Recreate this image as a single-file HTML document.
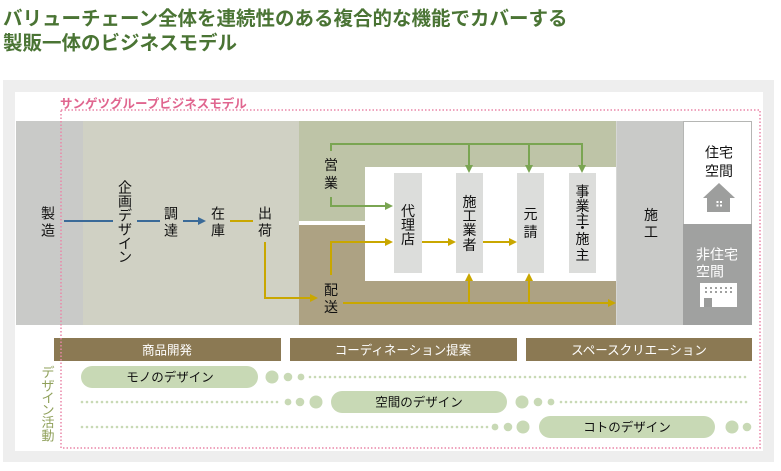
<!DOCTYPE html>
<html><head><meta charset="utf-8">
<style>
html,body{margin:0;padding:0;background:#fff;}
svg{display:block;}
text{font-family:"Liberation Sans","Noto Sans CJK JP",sans-serif;}
</style></head>
<body>
<svg width="781" height="471" viewBox="0 0 781 471" xmlns="http://www.w3.org/2000/svg">
<!-- Title -->
<text x="3" y="25" font-size="19.5" font-weight="bold" fill="#4a7434">バリューチェーン全体を連続性のある複合的な機能でカバーする</text>
<text x="3" y="49.5" font-size="19.5" font-weight="bold" fill="#4a7434">製販一体のビジネスモデル</text>

<!-- Backgrounds -->
<rect x="3" y="80" width="771" height="382" fill="#eeeeee"/>
<rect x="15" y="92" width="748" height="359" fill="#ffffff"/>

<text x="60" y="108" font-size="12.5" font-weight="bold" fill="#e0668f">サンゲツグループビジネスモデル</text>

<!-- Main band -->
<rect x="16" y="121" width="67" height="204" fill="#c9cac8"/>
<rect x="83" y="121" width="216" height="204" fill="#d0d1c4"/>
<rect x="299" y="121" width="317" height="100" fill="#bec4a7"/>
<rect x="299" y="225" width="317" height="100" fill="#ada283"/>
<rect x="299" y="221" width="66" height="4" fill="#ffffff"/>
<rect x="365" y="167" width="251" height="114" fill="#ffffff"/>

<rect x="394" y="173" width="28" height="100" fill="#dcdddb"/>
<rect x="456" y="173" width="27" height="100" fill="#dcdddb"/>
<rect x="517" y="173" width="27" height="100" fill="#dcdddb"/>
<rect x="569" y="173" width="27" height="100" fill="#dcdddb"/>

<rect x="616" y="121" width="67" height="204" fill="#c9cac8"/>
<line x1="616.5" y1="121" x2="616.5" y2="325" stroke="#d6d7d5" stroke-width="1"/>
<rect x="683.5" y="121.5" width="68" height="103" fill="#ffffff" stroke="#b5b6b4" stroke-width="1"/>
<rect x="683" y="224" width="69" height="101" fill="#a0a1a0"/>

<!-- House icon -->
<polygon points="703,198 719,183 735,198" fill="#9d9e9d"/>
<rect x="707" y="197" width="23" height="15" fill="#9d9e9d"/>
<rect x="716.5" y="201" width="2" height="2" fill="#fff"/>
<rect x="720" y="201" width="2" height="2" fill="#fff"/>
<rect x="716.5" y="204.5" width="2" height="2" fill="#fff"/>
<rect x="720" y="204.5" width="2" height="2" fill="#fff"/>

<!-- Building icon -->
<rect x="700" y="283" width="37" height="24" fill="#ffffff"/>
<g fill="#a0a1a0">
<rect x="705" y="287" width="2" height="2"/><rect x="710" y="287" width="2" height="2"/><rect x="715" y="287" width="2" height="2"/><rect x="720" y="287" width="2" height="2"/><rect x="725" y="287" width="2" height="2"/><rect x="730" y="287" width="2" height="2"/>
<rect x="705" y="291" width="2" height="2"/><rect x="710" y="291" width="2" height="2"/><rect x="715" y="291" width="2" height="2"/><rect x="720" y="291" width="2" height="2"/><rect x="725" y="291" width="2" height="2"/><rect x="730" y="291" width="2" height="2"/>
</g>
<rect x="704" y="298" width="8" height="9" fill="#9a9b9a"/>

<!-- Blue flow -->
<g stroke="#3a6a98" stroke-width="2" fill="none">
<line x1="64" y1="221" x2="113" y2="221"/>
<line x1="137" y1="221" x2="160" y2="221"/>
<line x1="183" y1="221" x2="199" y2="221"/>
</g>
<polygon points="198,217 206,221 198,225" fill="#3a6a98"/>

<!-- Yellow flows -->
<g stroke="#c9a700" stroke-width="2" fill="none">
<line x1="230" y1="221" x2="253" y2="221"/>
<polyline points="265,242 265,298 311,298"/>
<polyline points="331,275 331,242 386,242"/>
<line x1="422" y1="242" x2="449" y2="242"/>
<line x1="483" y1="242" x2="510" y2="242"/>
<line x1="343" y1="303" x2="609" y2="303"/>
<line x1="469" y1="303" x2="469" y2="280"/>
<line x1="529" y1="303" x2="529" y2="280"/>
</g>
<g fill="#c9a700">
<polygon points="310,294 318,298 310,302"/>
<polygon points="385,238 393,242 385,246"/>
<polygon points="448,238 456,242 448,246"/>
<polygon points="509,238 517,242 509,246"/>
<polygon points="608,299 616,303 608,307"/>
<polygon points="465,281 469,273 473,281"/>
<polygon points="525,281 529,273 533,281"/>
</g>

<!-- Green flows -->
<g stroke="#7aa552" stroke-width="2" fill="none">
<polyline points="331,151 331,144 582,144 582,166"/>
<line x1="469" y1="144" x2="469" y2="166"/>
<line x1="529" y1="144" x2="529" y2="166"/>
<polyline points="331,197 331,206 386,206"/>
</g>
<g fill="#7aa552">
<polygon points="465,165 469,173 473,165"/>
<polygon points="525,165 529,173 533,165"/>
<polygon points="578,165 582,173 586,165"/>
<polygon points="385,202 393,206 385,210"/>
</g>

<!-- Vertical labels -->
<g font-size="14" fill="#111" text-anchor="middle">
<text x="48" y="218.5">製</text><text x="48" y="235.5">造</text>
<text x="125" y="192.5">企</text><text x="125" y="206.5">画</text><text x="125" y="220.5">デ</text><text x="125" y="234.5">ザ</text><text x="125" y="248.5">イ</text><text x="125" y="262">ン</text>
<text x="171" y="218.5">調</text><text x="171" y="235.5">達</text>
<text x="218" y="218.5">在</text><text x="218" y="235.5">庫</text>
<text x="265" y="218.5">出</text><text x="265" y="235.5">荷</text>
<text x="331" y="170">営</text><text x="331" y="188">業</text>
<text x="331" y="295">配</text><text x="331" y="312">送</text>
<text x="408" y="216">代</text><text x="408" y="230">理</text><text x="408" y="244">店</text>
<text x="469.5" y="207">施</text><text x="469.5" y="221">工</text><text x="469.5" y="235">業</text><text x="469.5" y="250">者</text>
<text x="530.5" y="219">元</text><text x="530.5" y="237">請</text>
<text x="582.5" y="196.5">事</text><text x="582.5" y="211">業</text><text x="582.5" y="224.5">主</text><text x="582.5" y="233">・</text><text x="582.5" y="244">施</text><text x="582.5" y="260">主</text>
<text x="651" y="220">施</text><text x="651" y="237">工</text>
</g>

<g font-size="14" text-anchor="middle" fill="#111">
<text x="719" y="157.5">住宅</text>
<text x="719" y="176">空間</text>
</g>
<g font-size="14" fill="#ffffff">
<text x="696" y="259.5">非住宅</text>
<text x="696" y="276.5">空間</text>
</g>

<!-- Bottom bars -->
<rect x="54" y="338" width="227" height="23" fill="#8b7953"/>
<rect x="290" y="338" width="227" height="23" fill="#8b7953"/>
<rect x="526" y="338" width="226" height="23" fill="#8b7953"/>
<g font-size="12.5" fill="#ffffff" text-anchor="middle">
<text x="167" y="354.5">商品開発</text>
<text x="403" y="354.5">コーディネーション提案</text>
<text x="639" y="354.5">スペースクリエーション</text>
</g>

<!-- デザイン活動 -->
<g font-size="13" fill="#8fa05a" text-anchor="middle">
<text x="48" y="377">デ</text><text x="48" y="390.5">ザ</text><text x="48" y="402.5">イ</text><text x="48" y="414.5">ン</text><text x="48" y="427">活</text><text x="48" y="440.5">動</text>
</g>

<!-- Dotted lines -->
<g stroke="#c8d9b5" stroke-width="2.6" stroke-linecap="round" stroke-dasharray="0 5" fill="none">
<line x1="310" y1="377" x2="750" y2="377"/>
<line x1="82" y1="402" x2="280" y2="402"/>
<line x1="561" y1="402" x2="751" y2="402"/>
<line x1="82" y1="427" x2="488" y2="427"/>
</g>

<!-- Pills and circles -->
<g fill="#c8d9b5">
<rect x="81" y="366" width="177" height="22" rx="11"/>
<circle cx="272" cy="377" r="6.5"/><circle cx="288" cy="377" r="4.3"/><circle cx="301" cy="377" r="3.4"/>
<circle cx="288" cy="402" r="3.4"/><circle cx="300" cy="402" r="4.3"/><circle cx="316" cy="402" r="6.5"/>
<rect x="331" y="391" width="176" height="22" rx="11"/>
<circle cx="522" cy="402" r="6.5"/><circle cx="538" cy="402" r="4.3"/><circle cx="551" cy="402" r="3.4"/>
<circle cx="495" cy="427" r="3.4"/><circle cx="508" cy="427" r="4.3"/><circle cx="523" cy="427" r="6.5"/>
<rect x="539" y="416" width="176" height="22" rx="11"/>
<circle cx="732" cy="427" r="6.5"/><circle cx="747" cy="427" r="4.3"/>
</g>
<g font-size="12.5" fill="#111" text-anchor="middle">
<text x="170" y="381.5">モノのデザイン</text>
<text x="419" y="406.5">空間のデザイン</text>
<text x="627" y="431.5">コトのデザイン</text>
</g>

<!-- Pink dotted frame (on top) -->
<rect x="61" y="110" width="699" height="338" fill="none" stroke="#ea86a8" stroke-width="1.5" stroke-dasharray="1.5 2"/>
</svg>
</body></html>
